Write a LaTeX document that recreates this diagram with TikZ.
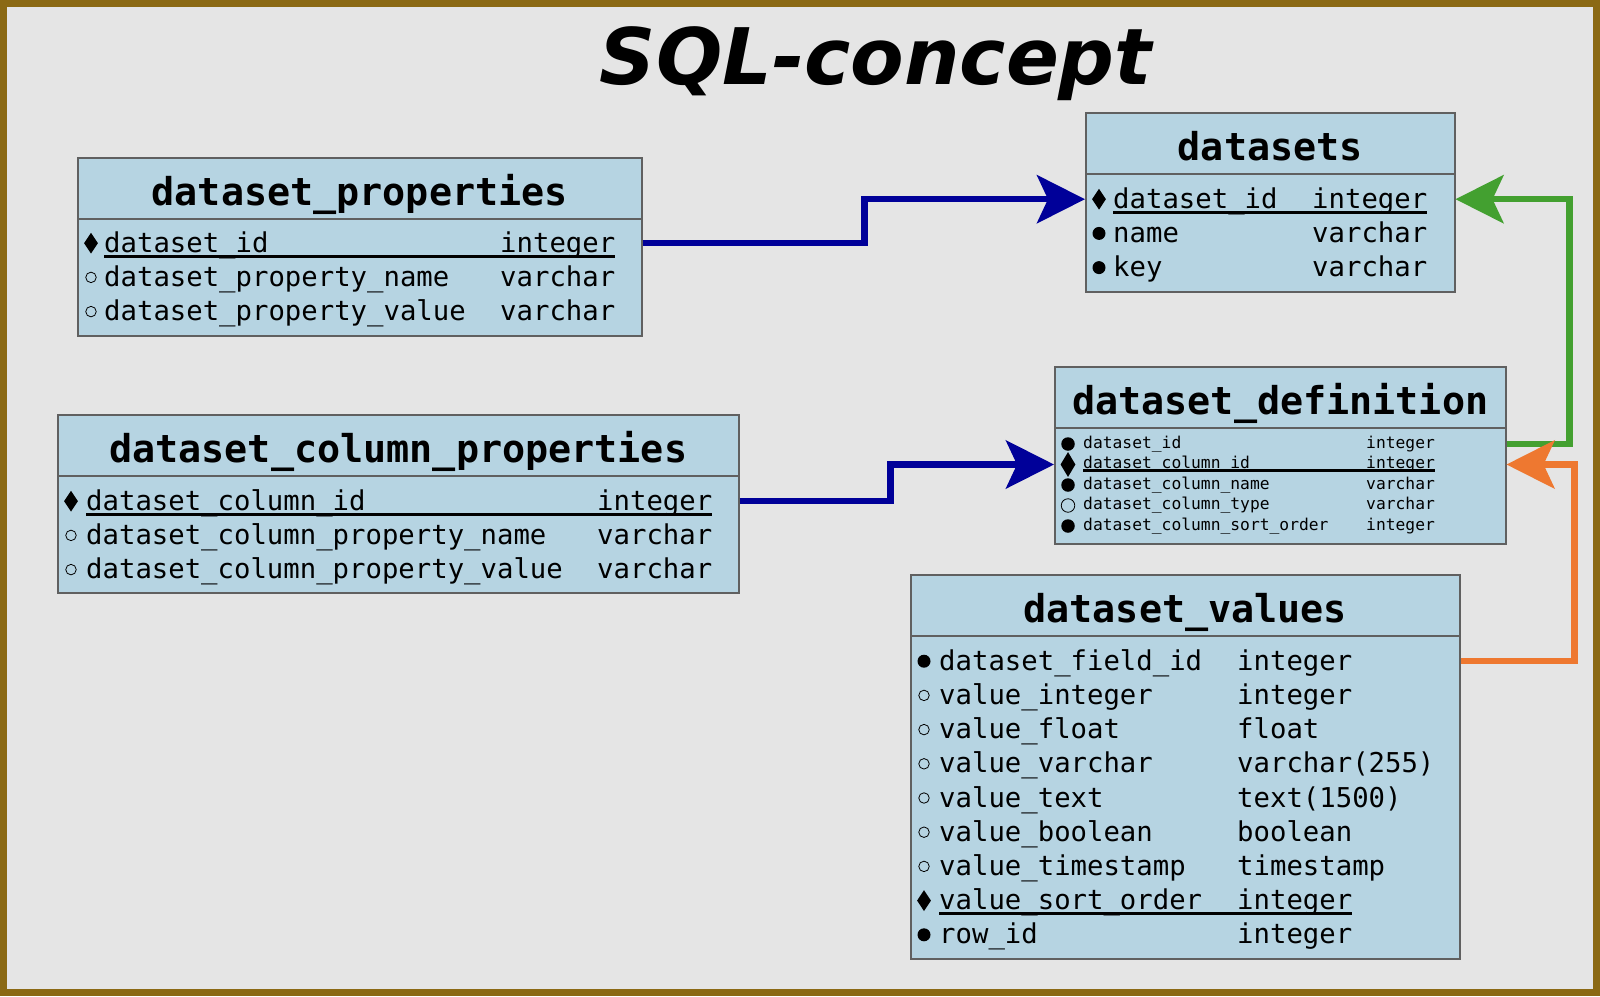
\documentclass[tikz,border=0pt]{standalone}
\usepackage{fontspec}
\setmonofont{DejaVu Sans Mono}
\newfontfamily\titlefont{DejaVu Sans}
\usetikzlibrary{arrows.meta,shapes.geometric}

\definecolor{bgback}{HTML}{E5E5E5}
\definecolor{frame}{HTML}{8B6914}
\definecolor{tblfill}{HTML}{B6D4E2}
\definecolor{tblline}{HTML}{606060}
\definecolor{fkblue}{HTML}{000099}
\definecolor{fkgreen}{HTML}{43A030}
\definecolor{fkorange}{HTML}{EE7830}

\tikzset{
  tbl/.style = {draw = tblline, fill = tblfill, line width = 1.5pt,
                anchor = north west, inner sep = 0pt},
  head/.style = {anchor = base, inner sep = 0pt,
                 font = \ttfamily\bfseries\fontsize{38.4}{40}\selectfont},
  field/.style = {anchor = base west, inner sep = 0pt,
                  font = \ttfamily\fontsize{27.3}{30}\selectfont},
  fieldsm/.style = {anchor = base west, inner sep = 0pt,
                    font = \ttfamily\fontsize{16.3}{18}\selectfont},
  pk/.style = {diamond, fill = black, inner sep = 0pt,
               minimum width = 14pt, minimum height = 21pt},
  nn/.style = {circle, fill = black, inner sep = 0pt, minimum size = 13pt},
  nul/.style = {circle, draw = black, line width = .8pt, inner sep = 0pt,
                minimum size = 10.5pt},
  pksm/.style = {pk, minimum width = 15pt, minimum height = 25pt},
  nnsm/.style = {nn, minimum size = 13.5pt},
  nulsm/.style = {nul, minimum size = 13.5pt},
  uline/.style = {line width = 3pt},
  sep/.style = {draw = tblline, line width = 1.5pt},
  fk/.style = {line width = 6.5pt,
               -{Stealth[length = 48pt, width = 48pt, inset = 11pt]}}
}

\begin{document}
\begin{tikzpicture}[x = 1pt, y = -1pt]
  \useasboundingbox (0,0) rectangle (1600,996);
  \fill [bgback] (0,0) rectangle (1600,996);
  \draw [frame, line width = 7pt] (3.5,3.5) rectangle (1596.5,992.5);

  \node [anchor = base, inner sep = 0pt,
         font = \titlefont\bfseries\itshape\fontsize{78}{80}\selectfont]
    (title) at (876,84) {SQL-concept};

  % tables
  \node [tbl, minimum width = 369pt, minimum height = 179pt] (ds) at (1085,112) {};
  \node [tbl, minimum width = 564pt, minimum height = 178pt] (props) at (77,157) {};
  \node [tbl, minimum width = 681pt, minimum height = 178pt] (cp) at (57,414) {};
  \node [tbl, minimum width = 451pt, minimum height = 177pt] (def) at (1054,366) {};
  \node [tbl, minimum width = 549pt, minimum height = 384pt] (vals) at (910,574) {};

  \foreach \t/\h in {ds/datasets, props/dataset\_properties,
                     cp/dataset\_column\_properties, def/dataset\_definition,
                     vals/dataset\_values} {
    \draw [sep] ([yshift = -62pt]\t.north west) -- ([yshift = -62pt]\t.north east);
    \node [head] (\t-h) at ([yshift = -48pt]\t.north) {\h};
  }

  % datasets
  \foreach \sym/\fname/\ftype [count = \i] in
      {pk/dataset\_id/integer, nn/name/varchar, nn/key/varchar} {
    \coordinate (ds-\i) at (1085, {174 + 34.2*\i - 9});
    \node [\sym] (ds-s\i) at (1099, {174 + 34.2*\i - 9}) {};
    \node [field] (ds-n\i) at (1113, {174 + 34.2*\i}) {\fname};
    \node [field] (ds-t\i) at (1312, {174 + 34.2*\i}) {\ftype};
  }
  \draw [uline] ([yshift = -4pt]ds-n1.base west) -- ([yshift = -4pt]ds-t1.base east);

  % dataset_properties
  \foreach \sym/\fname/\ftype [count = \i] in
      {pk/dataset\_id/integer, nul/dataset\_property\_name/varchar,
       nul/dataset\_property\_value/varchar} {
    \coordinate (props-\i) at (77, {218 + 34.2*\i - 9});
    \node [\sym] (props-s\i) at (91, {218 + 34.2*\i - 9}) {};
    \node [field] (props-n\i) at (104, {218 + 34.2*\i}) {\fname};
    \node [field] (props-t\i) at (500, {218 + 34.2*\i}) {\ftype};
  }
  \draw [uline] ([yshift = -4pt]props-n1.base west) -- ([yshift = -4pt]props-t1.base east);

  % dataset_column_properties
  \foreach \sym/\fname/\ftype [count = \i] in
      {pk/dataset\_column\_id/integer, nul/dataset\_column\_property\_name/varchar,
       nul/dataset\_column\_property\_value/varchar} {
    \coordinate (cp-\i) at (57, {476 + 34.2*\i - 9});
    \node [\sym] (cp-s\i) at (71, {476 + 34.2*\i - 9}) {};
    \node [field] (cp-n\i) at (86, {476 + 34.2*\i}) {\fname};
    \node [field] (cp-t\i) at (597, {476 + 34.2*\i}) {\ftype};
  }
  \draw [uline] ([yshift = -4pt]cp-n1.base west) -- ([yshift = -4pt]cp-t1.base east);

  % dataset_definition
  \foreach \sym/\fname/\ftype [count = \i] in
      {nnsm/dataset\_id/integer, pksm/dataset\_column\_id/integer,
       nnsm/dataset\_column\_name/varchar, nulsm/dataset\_column\_type/varchar,
       nnsm/dataset\_column\_sort\_order/integer} {
    \coordinate (def-\i) at (1054, {427.5 + 20.5*\i - 4});
    \node [\sym] (def-s\i) at (1068, {427.5 + 20.5*\i - 4}) {};
    \node [fieldsm] (def-n\i) at (1083, {427.5 + 20.5*\i}) {\fname};
    \node [fieldsm] (def-t\i) at (1366, {427.5 + 20.5*\i}) {\ftype};
  }
  \draw [line width = 2.5pt] ([yshift = -2pt]def-n2.base west) -- ([yshift = -2pt]def-t2.base east);

  % dataset_values
  \foreach \sym/\fname/\ftype [count = \i] in
      {nn/dataset\_field\_id/integer, nul/value\_integer/integer,
       nul/value\_float/float, nul/value\_varchar/varchar(255),
       nul/value\_text/text(1500), nul/value\_boolean/boolean,
       nul/value\_timestamp/timestamp, pk/value\_sort\_order/integer,
       nn/row\_id/integer} {
    \coordinate (vals-\i) at (910, {636 + 34.2*\i - 9});
    \node [\sym] (vals-s\i) at (924, {636 + 34.2*\i - 9}) {};
    \node [field] (vals-n\i) at (939, {636 + 34.2*\i}) {\fname};
    \node [field] (vals-t\i) at (1237, {636 + 34.2*\i}) {\ftype};
  }
  \draw [uline] ([yshift = -4pt]vals-n8.base west) -- ([yshift = -4pt]vals-t8.base east);

  % foreign keys
  \draw [fk, fkblue] (props-1 -| props.east) -- ++(222,0) |- (ds-1 -| ds.west);
  \draw [fk, fkblue] (cp-1 -| cp.east) -- ++(151,0) |- (def-2 -| def.west);
  \draw [fk, fkgreen] (def-1 -| def.east) -- ++(63,0) |- (ds-1 -| ds.east);
  \draw [fk, fkorange] (vals-1 -| vals.east) -- ++(114,0) |- (def-2 -| def.east);
\end{tikzpicture}
\end{document}
